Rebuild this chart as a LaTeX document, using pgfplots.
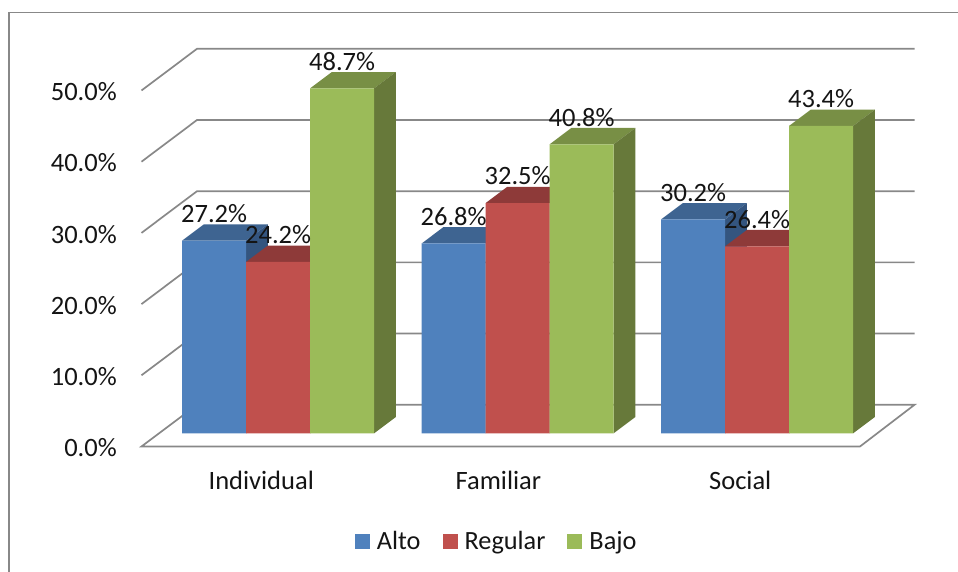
\documentclass[border=0pt]{standalone}
\usepackage{pgfplots}
\pgfplotsset{compat=1.18}
\usepackage{fontspec}
\setmainfont{Carlito}
\definecolor{cBlue}{HTML}{4F81BD}\definecolor{cBlueT}{HTML}{3E6491}\definecolor{cBlueS}{HTML}{34557F}
\definecolor{cRed}{HTML}{C0504D}\definecolor{cRedT}{HTML}{8E3A39}\definecolor{cRedS}{HTML}{7A3230}
\definecolor{cGreen}{HTML}{9BBB59}\definecolor{cGreenT}{HTML}{788F45}\definecolor{cGreenS}{HTML}{67793A}
\definecolor{cGrid}{HTML}{888888}
\newcommand{\bw}{0.2672}
\newcommand{\ddx}{0.0906}
\newcommand{\ddy}{2.30}
% #1 group, #2 series (-1,0,1), #3 value, #4 top colour, #5 side colour
\newcommand{\barfaces}[5]{%
  \pgfmathsetmacro\xl{#1+(#2-0.5)*\bw}%
  \pgfmathsetmacro\xr{#1+(#2+0.5)*\bw}%
  \pgfmathsetmacro\xlb{\xl+\ddx}%
  \pgfmathsetmacro\xrb{\xr+\ddx}%
  \pgfmathsetmacro\vb{#3+\ddy}%
  \edef\temp{\noexpand\addplot[fill=#4,draw=none,forget plot] coordinates {(\xl,#3)(\xr,#3)(\xrb,\vb)(\xlb,\vb)} -- cycle;
    \noexpand\addplot[fill=#5,draw=none,forget plot] coordinates {(\xr,0)(\xrb,\ddy)(\xrb,\vb)(\xr,#3)} -- cycle;}%
  \temp}
\pgfplotsset{
  numlabels/.style={
    ybar, bar width=\bw, bar shift=0, draw=none,
    nodes near coords={\pgfmathprintnumber[fixed,fixed zerofill,precision=1,assume math mode=true]{\pgfplotspointmeta}\%},
    every node near coord/.append style={font=\fontsize{26.5}{30}\selectfont,text=black!92,anchor=center,inner sep=0pt,yshift=27pt},
  },
  wall/.style={cGrid,line width=1.7pt,line join=miter,no markers,solid},
}
\begin{document}
\begin{tikzpicture}[x=1pt,y=1pt]
\useasboundingbox (0,0) rectangle (958,572);
\draw[cGrid,line width=1.4pt] (8.8,0) -- (8.8,559.3) -- (958,559.3);
% value axis, walls and floor
\begin{axis}[
  at={(141.5pt,125.5pt)}, anchor=south west,
  scale only axis, width=718.5pt, height=356pt,
  xmin=-0.5, xmax=2.5, ymin=0, ymax=50,
  clip=false,
  axis line style={draw=none},
  major tick length=0pt,
  xtick={0,0.99,2}, xticklabels={Individual,Familiar,Social},
  ytick={0,10,20,30,40,50},
  yticklabel={\pgfmathprintnumber[fixed,fixed zerofill,precision=1,assume math mode=true]{\tick}\%},
  tick label style={font=\fontsize{26.5}{30}\selectfont,text=black!92,inner sep=0pt},
  yticklabel style={anchor=east,xshift=-24.5pt,yshift=-1.2pt},
  xticklabel style={anchor=center,yshift=-33.5pt},
]
\addplot[wall] coordinates {(-0.5,0)(2.5,0)(2.7276,5.857)(-0.2683,5.857)} -- cycle;
\addplot[wall] coordinates {(-0.5,10)(-0.2683,15.857)(2.7276,15.857)};
\addplot[wall] coordinates {(-0.5,20)(-0.2683,25.857)(2.7276,25.857)};
\addplot[wall] coordinates {(-0.5,30)(-0.2683,35.857)(2.7276,35.857)};
\addplot[wall] coordinates {(-0.5,40)(-0.2683,45.857)(2.7276,45.857)};
\addplot[wall] coordinates {(-0.5,50)(-0.2683,55.857)(2.7276,55.857)};
\end{axis}
% bars
\begin{axis}[
  at={(158.4pt,138.7pt)}, anchor=south west,
  scale only axis, width=718.5pt, height=354.2pt,
  xmin=-0.5, xmax=2.5, ymin=0, ymax=50,
  clip=false, hide axis,
  legend columns=3,
  legend cell align=left,
  legend style={at={(0.4695,-0.3043)},anchor=center,draw=none,fill=none,inner sep=0pt,outer sep=0pt,
    font=\fontsize{26.3}{30}\selectfont,text=black!92,
    /tikz/every even column/.style={column sep=22pt},
    /tikz/every odd column/.style={column sep=7pt},
    nodes={inner sep=0pt}},
  legend image code/.code={\fill[#1,draw=none] (0pt,-7.5pt) rectangle (15pt,7.5pt);},
]
\barfaces{0}{-1}{27.2}{cBlueT}{cBlueS}
\barfaces{1}{-1}{26.8}{cBlueT}{cBlueS}
\barfaces{2}{-1}{30.2}{cBlueT}{cBlueS}
\addplot[numlabels,fill=cBlue] coordinates {(-0.2672,27.2)(0.7328,26.8)(1.7328,30.2)};
\addlegendentry{Alto}
\barfaces{0}{0}{24.2}{cRedT}{cRedS}
\barfaces{1}{0}{32.5}{cRedT}{cRedS}
\barfaces{2}{0}{26.4}{cRedT}{cRedS}
\addplot[numlabels,fill=cRed] coordinates {(0,24.2)(1,32.5)(2,26.4)};
\addlegendentry{Regular}
\barfaces{0}{1}{48.7}{cGreenT}{cGreenS}
\barfaces{1}{1}{40.8}{cGreenT}{cGreenS}
\barfaces{2}{1}{43.4}{cGreenT}{cGreenS}
\addplot[numlabels,fill=cGreen] coordinates {(0.2672,48.7)(1.2672,40.8)(2.2672,43.4)};
\addlegendentry{Bajo}
\end{axis}
\end{tikzpicture}
\end{document}
